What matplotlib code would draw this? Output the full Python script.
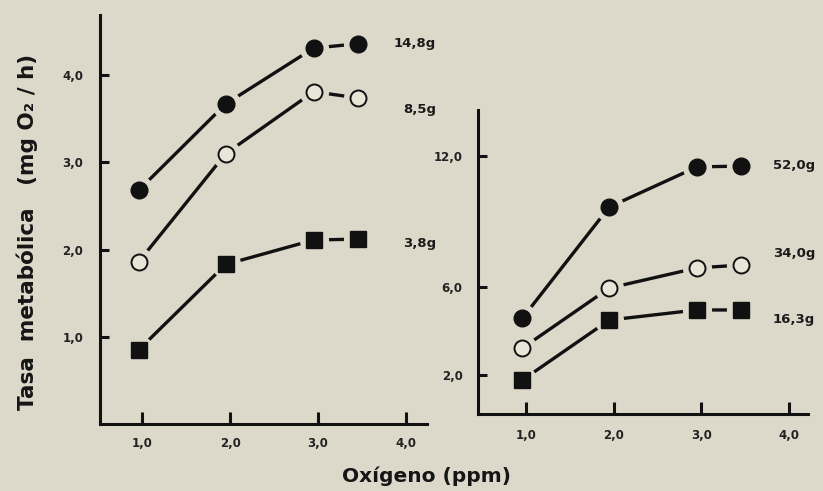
import matplotlib
matplotlib.use("Agg")
import matplotlib.pyplot as plt

# ---- data ----
oxigeno = [0.96, 1.95, 2.95, 3.45]

left_labels = ["14,8g", "8,5g", "3,8g"]
left_148 = [2.68, 3.67, 4.31, 4.36]
left_85 = [1.86, 3.10, 3.81, 3.74]
left_38 = [0.85, 1.83, 2.11, 2.12]

right_labels = ["52,0g", "34,0g", "16,3g"]
right_520 = [4.60, 9.67, 11.50, 11.54]
right_340 = [3.23, 5.97, 6.89, 7.02]
right_163 = [1.77, 4.51, 4.97, 4.97]

x_ticks = [1.0, 2.0, 3.0, 4.0]
x_ticklabels = ["1,0", "2,0", "3,0", "4,0"]
left_yticks = [1.0, 2.0, 3.0, 4.0]
left_yticklabels = ["1,0", "2,0", "3,0", "4,0"]
right_yticks = [2.0, 6.0, 12.0]
right_yticklabels = ["2,0", "6,0", "12,0"]

BG = "#dcd9cb"
INK = "#111111"
FONT = "DejaVu Sans"

W, H = 823, 491
fig = plt.figure(figsize=(W / 100, H / 100), dpi=100, facecolor=BG)


def px_rect(x0, y0, x1, y1):
    return [x0 / W, 1 - y1 / H, (x1 - x0) / W, (y1 - y0) / H]


axL = fig.add_axes(px_rect(100, 15, 427, 424))
axR = fig.add_axes(px_rect(478, 110, 808, 414))


def style_axis(ax, xlim, ylim, yticks, yticklabels, ypad, xpad):
    ax.set_facecolor(BG)
    ax.set_xlim(*xlim)
    ax.set_ylim(*ylim)
    for s in ["top", "right"]:
        ax.spines[s].set_visible(False)
    for s in ["left", "bottom"]:
        ax.spines[s].set_linewidth(2.2)
        ax.spines[s].set_color(INK)
    ax.set_xticks(x_ticks)
    ax.set_xticklabels(x_ticklabels, fontsize=8.5, fontweight="bold",
                       family=FONT, color="#222222")
    ax.set_yticks(yticks)
    ax.set_yticklabels(yticklabels, fontsize=8.5, fontweight="bold",
                       family=FONT, color="#222222")
    ax.tick_params(axis="x", direction="in", length=8.5, width=2.2,
                   color=INK, pad=xpad)
    ax.tick_params(axis="y", direction="in", length=6.5, width=2.2,
                   color=INK, pad=ypad)


style_axis(axL, (0.52, 4.24), (0.0, 4.69), left_yticks, left_yticklabels, 12, 9.5)
style_axis(axR, (0.453, 4.217), (0.22, 14.1), right_yticks, right_yticklabels, 11, 10.5)


def draw_series(ax, ys, marker, filled):
    ax.plot(oxigeno, ys, color=INK, lw=2.4, zorder=1, solid_capstyle="butt")
    ax.plot(oxigeno, ys, ls="none", marker="o", ms=21, mfc=BG, mec=BG,
            mew=0, zorder=2)
    if filled:
        ax.plot(oxigeno, ys, ls="none", marker=marker,
                ms=12 if marker == "o" else 11,
                mfc=INK, mec=INK, mew=1.0, zorder=3)
    else:
        ax.plot(oxigeno, ys, ls="none", marker=marker, ms=11.5,
                mfc="#e8e5d9", mec=INK, mew=1.4, zorder=3)


draw_series(axL, left_148, "o", True)
draw_series(axL, left_85, "o", False)
draw_series(axL, left_38, "s", True)

draw_series(axR, right_520, "o", True)
draw_series(axR, right_340, "o", False)
draw_series(axR, right_163, "s", True)

# series labels
lab_kw = dict(fontsize=9.5, fontweight="bold", family=FONT, color="#1a1a1a",
              va="center")
for txt, ypix in zip(left_labels, [43, 110, 243]):
    fig.text(436 / W, 1 - ypix / H, txt, ha="right", **lab_kw)
for txt, ypix in zip(right_labels, [165, 254, 320]):
    fig.text(773 / W, 1 - ypix / H, txt, ha="left", **lab_kw)

# axis titles
fig.text(27 / W, 1 - 232 / H, "Tasa  metabólica   (mg O₂ / h)", rotation=90,
         ha="center", va="center", fontsize=15.5, fontweight="bold",
         family=FONT, color="#151515")
fig.text(427 / W, 1 - 476 / H, "Oxígeno (ppm)", ha="center", va="center",
         fontsize=14.5, fontweight="bold", family=FONT, color="#151515")

fig.savefig("out.png", dpi=100, facecolor=BG)
